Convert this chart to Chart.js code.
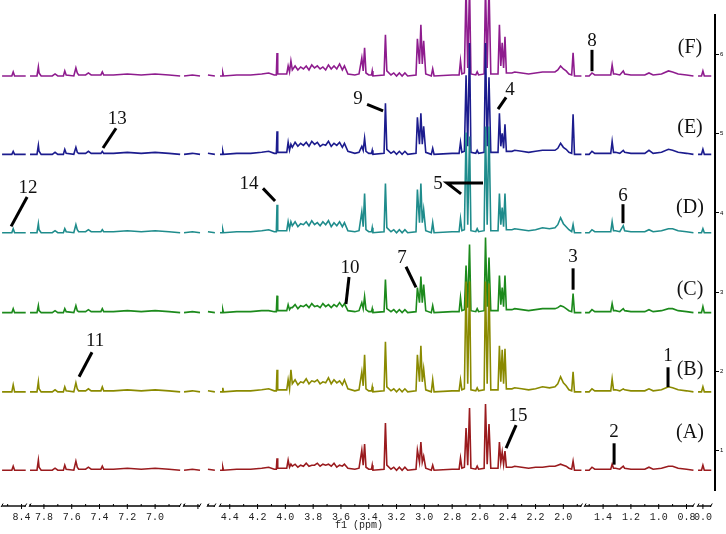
<!DOCTYPE html>
<html>
<head>
<meta charset="utf-8">
<script src="https://cdn.jsdelivr.net/npm/chart.js@4"></script>
<style>
html, body { margin: 0; padding: 0; background: #fff; }
#wrap { width: 726px; height: 534px; position: relative; }
</style>
</head>
<body>
<div id="wrap"><canvas id="nmrChart"></canvas></div>
<script>
// chemical shift of each vertex, shared by the six stacked spectra
const PPM = [
    8.54, 8.47, 8.46, 8.45, 8.37,
    7.90, 7.85, 7.84, 7.835, 7.82, 7.74, 7.72, 7.70, 7.66, 7.65, 7.64, 7.585, 7.57, 7.56, 7.55,
    7.50, 7.48, 7.46, 7.39, 7.38, 7.37, 7.30, 7.20, 7.10, 7.00, 6.90, 6.82,
    5.50, 5.44, 5.385,
    5.30, 5.25,
    4.47, 4.455, 4.45, 4.445, 4.35, 4.25, 4.17, 4.12, 4.08, 4.065, 4.06, 4.055, 4.02, 3.99, 3.98, 3.97, 3.96,
    3.95, 3.93, 3.91, 3.89, 3.87, 3.85, 3.83, 3.81, 3.79, 3.77, 3.75, 3.73, 3.71, 3.69, 3.67, 3.65, 3.63, 3.61, 3.59, 3.575, 3.55,
    3.50, 3.47, 3.45, 3.44, 3.43, 3.42, 3.40, 3.38, 3.375, 3.37, 3.29, 3.28, 3.27, 3.24, 3.22, 3.20, 3.18, 3.16, 3.14, 3.12,
    3.06, 3.05, 3.035, 3.025, 3.015, 3.005, 2.99, 2.95, 2.94, 2.93,
    2.80, 2.75, 2.74, 2.73, 2.712, 2.70, 2.688, 2.675, 2.665, 2.63, 2.62, 2.61, 2.57, 2.56, 2.548, 2.535, 2.522,
    2.47, 2.46, 2.45, 2.44, 2.43, 2.42, 2.41, 2.37, 2.35, 2.30, 2.25,
    2.20, 2.15, 2.10, 2.06, 2.04, 2.02, 2.00, 1.98, 1.96, 1.94, 1.93, 1.92, 1.87,
    1.53, 1.50, 1.48, 1.46, 1.40, 1.345, 1.335, 1.325, 1.31, 1.28, 1.255, 1.245, 1.20, 1.10, 1.07, 1.04, 0.98, 0.93, 0.90, 0.86, 0.80, 0.75,
    0.035, 0.01, 0.0, -0.01, -0.06
];

// intensities (arbitrary units) of each spectrum at the PPM vertices
const TRACE_A = [
    0,0,4,0,0,
    0,0,10,3,0, 0,2,0, 0,5,1, 0,9,3,1, 1,3,1, 1,4,1, 1,2,1,2,1,0,
    0,1,0,
    1,0,
    0,0,3,0, 1,1,2,3,1, 1,12,2, 2,2,10,3,6,
    4,6,3,5,4,7,4,5,5,7,4,6,5,6,4,7,3,5,4,6,2,
    1,2,20,5,26,3,1,1,5,0, 1,47,5,1,3,0,3,0,3,0,
    1,20,8,28,8,14,2,0,5,0,
    1,1,12,2,3,42,5,62,2,1,4,1,2,66,6,46,2,
    2,28,8,18,6,19,3,3,4,3,2,
    3,3,4,4,5,6,5,4,2,1,9,0,0,
    0,0,3,1,1,1,6,2,2,1,4,2,1,1,3,1,2,4,4,2,1,0,
    0,0,5,0,0
];
const TRACE_B = [
    0,0,7,0,0,
    0,0,10,3,0, 0,2,0, 0,5,1, 0,9,3,1, 1,3,1, 1,5,1, 1,2,1,2,1,0,
    0,1,0,
    1,0,
    0,0,4,0, 1,1,2,3,1, 1,22,2, 2,2,12,3,22,
    8,12,7,10,9,13,8,11,10,12,8,10,9,14,8,12,9,11,7,12,3,
    1,2,20,6,37,3,1,1,5,0, 1,50,5,1,3,0,3,0,3,0,
    1,37,10,46,10,23,2,0,12,0,
    1,1,12,2,3,110,8,110,2,1,4,1,2,110,8,108,2,
    2,46,10,42,8,43,3,3,4,3,2,
    3,5,4,5,8,15,9,6,2,1,20,0,0,
    0,0,3,1,1,1,13,2,2,1,3,2,1,1,3,1,2,5,4,2,1,0,
    0,0,5,0,0
];
const TRACE_C = [
    0,0,4,0,0,
    0,0,7,2,0, 0,2,0, 0,4,1, 0,7,2,1, 1,3,1, 1,4,1, 1,2,1,2,1,0,
    0,1,0,
    1,0,
    0,0,3,0, 1,1,2,2,1, 1,17,2, 2,2,8,3,5,
    5,8,4,7,6,8,5,9,6,7,5,9,6,8,5,8,6,10,6,9,2,
    1,2,10,4,16,3,1,1,4,0, 1,33,4,1,3,0,3,0,3,0,
    1,25,10,36,10,28,2,0,7,0,
    1,1,15,2,3,47,5,68,2,1,4,1,2,75,6,55,2,
    2,37,8,25,6,37,3,3,4,3,2,
    3,4,4,4,5,7,6,4,2,1,19,0,0,
    0,0,3,1,1,1,9,2,2,1,4,2,1,1,3,1,2,4,4,2,1,0,
    0,0,6,0,0
];
const TRACE_D = [
    0,0,4,0,0,
    0,0,9,3,0, 0,2,0, 0,4,1, 0,8,3,1, 1,3,1, 1,3,1, 1,2,1,2,1,0,
    0,1,0,
    1,0,
    0,0,3,0, 1,1,2,3,1, 1,28,2, 2,2,11,4,11,
    7,11,6,9,8,11,7,12,8,10,7,11,8,12,6,10,7,11,6,10,2,
    1,2,21,6,39,3,1,1,5,0, 1,49,5,1,3,0,3,0,3,0,
    1,43,10,49,10,23,2,0,10,0,
    1,1,14,2,3,100,8,96,2,1,4,1,2,106,8,106,2,
    2,39,8,25,6,39,3,3,4,3,2,
    3,5,4,5,8,15,9,6,3,1,8,0,0,
    0,0,3,1,1,1,11,2,2,1,7,2,1,1,3,1,2,4,4,2,1,0,
    0,0,4,0,0
];
const TRACE_E = [
    0,0,3,0,0,
    0,0,9,3,0, 0,2,0, 0,5,1, 0,7,2,1, 1,3,1, 1,3,1, 1,2,1,2,1,0,
    0,1,0,
    1,0,
    0,0,3,0, 1,1,2,3,1, 1,23,2, 2,2,12,4,10,
    7,12,8,11,9,12,8,13,10,12,8,10,9,13,8,11,9,12,7,11,3,
    1,2,8,4,16,3,1,1,4,0, 1,51,5,1,3,0,3,0,3,0,
    1,37,10,41,10,28,2,0,6,0,
    1,1,12,2,3,79,8,111,2,1,4,1,2,111,8,77,2,
    2,41,8,21,6,30,3,3,4,3,2,
    3,4,4,4,6,11,7,5,2,1,40,0,0,
    0,0,3,1,1,1,13,2,2,1,4,2,1,1,4,1,2,5,4,2,1,0,
    0,0,5,0,0
];
const TRACE_F = [
    0,0,4,0,0,
    0,0,9,3,0, 0,2,0, 0,5,1, 0,8,3,1, 1,3,1, 1,4,1, 1,2,1,2,1,0,
    0,1,0,
    1,0,
    0,0,3,0, 1,1,2,3,1, 1,23,2, 2,2,10,4,15,
    6,10,6,9,7,10,6,11,8,10,7,9,6,11,7,10,7,12,6,10,2,
    1,2,18,5,28,3,1,1,5,0, 1,41,5,1,3,0,3,0,3,0,
    1,37,12,51,12,35,2,0,7,0,
    1,1,15,2,3,90,8,90,2,1,4,1,2,90,8,90,2,
    2,51,10,33,8,39,3,3,4,3,2,
    3,4,4,4,6,10,7,5,2,1,23,0,0,
    0,0,3,1,1,1,11,2,2,1,5,2,1,1,3,1,2,5,4,2,1,0,
    0,0,5,0,0
];

const TRACE_NAMES = ['(A)', '(B)', '(C)', '(D)', '(E)', '(F)'];
const TRACE_OFFSETS = [0.75, 1.74, 2.74, 3.75, 4.74, 5.73];
const X_TICKS = [8.4, 7.8, 7.6, 7.4, 7.2, 7.0, 4.4, 4.2, 4.0, 3.8, 3.6, 3.4, 3.2, 3.0, 2.8, 2.6, 2.4, 2.2, 2.0, 1.4, 1.2, 1.0, 0.8, 0.0];
const Y_TICKS = [1, 2, 3, 4, 5, 6];
const PEAK_LABELS = ['1', '2', '3', '4', '5', '6', '7', '8', '9', '10', '11', '12', '13', '14', '15'];

const TRACE_COLORS = ['#9a1b1e', '#8a8a00', '#1c8a1c', '#1f8c8c', '#1c1c8e', '#8e1c8e'];
const STACK_STEP = 79;   // intensity units between two stacked spectra

// broken ppm axis: [high ppm, low ppm, start on the axis]
const AXIS_BREAKS = [
    [8.54, 8.37, 0.015],
    [7.90, 6.82, 0.216],
    [5.50, 5.385, 1.324],
    [5.30, 5.25, 1.496],
    [4.47, 1.87, 1.583],
    [1.53, 0.75, 4.209],
    [0.035, -0.06, 5.022]
];
const AXIS_SPAN = 5.144;

function segmentOf(p) {
    let best = 0, bestDist = Infinity;
    AXIS_BREAKS.forEach(([hi, lo], i) => {
        const d = p > hi ? p - hi : (p < lo ? lo - p : 0);
        if (d < bestDist) { bestDist = d; best = i; }
    });
    return best;
}

function ppmToU(p) {
    const [hi, , start] = AXIS_BREAKS[segmentOf(p)];
    return start + (hi - p);
}

function buildSeries(values, offset) {
    const pts = [];
    let prevSeg = -1, prevU = 0;
    PPM.forEach((p, i) => {
        const s = segmentOf(p);
        const u = ppmToU(p);
        if (prevSeg !== -1 && s !== prevSeg) pts.push({ x: (prevU + u) / 2, y: null });
        pts.push({ x: u, y: offset + values[i] / STACK_STEP });
        prevSeg = s;
        prevU = u;
    });
    return pts;
}

// peak call-outs: polyline and label centre, in (ppm, stack value)
const CALLOUTS = [
    { line: [[0.933, 1.80], [0.933, 2.05]], at: [0.933, 2.19] },
    { line: [[1.321, 0.82], [1.321, 1.09]], at: [1.321, 1.23] },
    { line: [[1.93, 3.03], [1.93, 3.30]], at: [1.93, 3.44] },
    { line: [[2.470, 5.31], [2.412, 5.46]], at: [2.384, 5.55] },
    { line: [[2.736, 4.24], [2.837, 4.378], [2.578, 4.378]], at: [2.902, 4.37] },
    { line: [[1.257, 3.87], [1.257, 4.11]], at: [1.257, 4.21] },
    { line: [[3.060, 3.06], [3.132, 3.32]], at: [3.161, 3.43] },
    { line: [[1.48, 5.79], [1.48, 6.06]], at: [1.48, 6.17] },
    { line: [[3.297, 5.29], [3.412, 5.37]], at: [3.477, 5.44] },
    { line: [[3.564, 2.85], [3.542, 3.19]], at: [3.535, 3.31] },
    { line: [[7.547, 1.93], [7.454, 2.24]], at: [7.432, 2.38] },
    { line: [[8.475, 3.83], [8.36, 4.20]], at: [8.353, 4.31] },
    { line: [[7.375, 4.82], [7.281, 5.07]], at: [7.273, 5.19] },
    { line: [[4.074, 4.15], [4.161, 4.31]], at: [4.261, 4.37] },
    { line: [[2.412, 1.03], [2.340, 1.32]], at: [2.326, 1.43] }
];
const NAME_Y = [1.22, 2.02, 3.03, 4.06, 5.07, 6.09];

const nmrDecor = {
    id: 'nmrDecor',
    afterDraw(chart) {
        const { ctx, chartArea, scales } = chart;
        const px = p => scales.x.getPixelForValue(ppmToU(p));
        const py = v => scales.y.getPixelForValue(v);
        const axisY = chartArea.bottom + 16;

        ctx.save();
        // broken x axis
        ctx.strokeStyle = '#000';
        AXIS_BREAKS.forEach(([hi, lo]) => {
            const x0 = px(hi), x1 = px(lo);
            ctx.lineWidth = 1.4;
            ctx.beginPath(); ctx.moveTo(x0, axisY); ctx.lineTo(x1, axisY); ctx.stroke();
            ctx.lineWidth = 1;
            [x0, x1].forEach(xx => {
                ctx.beginPath(); ctx.moveTo(xx - 1, axisY + 1); ctx.lineTo(xx + 1, axisY - 2.5); ctx.stroke();
            });
            for (let t = Math.ceil(lo * 10 - 1e-6); t <= Math.floor(hi * 10 + 1e-6); t++) {
                const xx = px(t / 10);
                const major = t % 2 === 0;
                ctx.beginPath();
                ctx.moveTo(xx, axisY - 2);
                ctx.lineTo(xx, axisY + (major ? 3 : 0));
                ctx.stroke();
            }
        });
        ctx.fillStyle = '#222';
        ctx.font = '10px "Liberation Mono"';
        ctx.textAlign = 'center';
        ctx.textBaseline = 'middle';
        X_TICKS.forEach(v => ctx.fillText(v.toFixed(1), px(v), axisY + 11));
        ctx.fillText('f1 (ppm)', px(3.47), axisY + 19);

        // spectrum names
        ctx.fillStyle = '#111';
        ctx.font = '20px "Liberation Serif"';
        TRACE_NAMES.forEach((name, i) => ctx.fillText(name, chartArea.right - 25, py(NAME_Y[i])));

        // peak call-outs
        ctx.strokeStyle = '#000';
        ctx.lineWidth = 3;
        ctx.font = '19px "Liberation Serif"';
        CALLOUTS.forEach((c, i) => {
            ctx.beginPath();
            c.line.forEach(([p, v], k) => k ? ctx.lineTo(px(p), py(v)) : ctx.moveTo(px(p), py(v)));
            ctx.stroke();
            ctx.fillText(PEAK_LABELS[i], px(c.at[0]), py(c.at[1]));
        });
        ctx.restore();
    }
};

const traces = [TRACE_A, TRACE_B, TRACE_C, TRACE_D, TRACE_E, TRACE_F];
traces.forEach((t, i) => {
    if (t.length !== PPM.length) console.error('length mismatch', TRACE_NAMES[i], t.length, PPM.length);
});

new Chart(document.getElementById('nmrChart'), {
    type: 'line',
    data: {
        datasets: traces.map((t, i) => ({
            label: TRACE_NAMES[i],
            data: buildSeries(t, TRACE_OFFSETS[i]),
            borderColor: TRACE_COLORS[i],
            borderWidth: 1.6,
            pointRadius: 0,
            tension: 0,
            spanGaps: false,
            clip: false
        }))
    },
    options: {
        responsive: true,
        maintainAspectRatio: false,
        animation: false,
        layout: { padding: { top: 15, bottom: 44, left: 0, right: 0 } },
        plugins: { legend: { display: false }, tooltip: { enabled: false } },
        scales: {
            x: { type: 'linear', min: 0, max: AXIS_SPAN, display: false },
            y: {
                type: 'linear',
                position: 'right',
                min: 0.5,
                max: 6.5,
                afterBuildTicks: s => { s.ticks = Y_TICKS.map(v => ({ value: v })); },
                afterFit: s => { s.width = 11; },
                ticks: { color: '#000', font: { size: 6 }, padding: 1, callback: v => String(v) },
                grid: { drawOnChartArea: false, color: '#000', tickLength: 4 },
                border: { display: true, color: '#000', width: 2 }
            }
        }
    },
    plugins: [nmrDecor]
});
</script>
</body>
</html>
